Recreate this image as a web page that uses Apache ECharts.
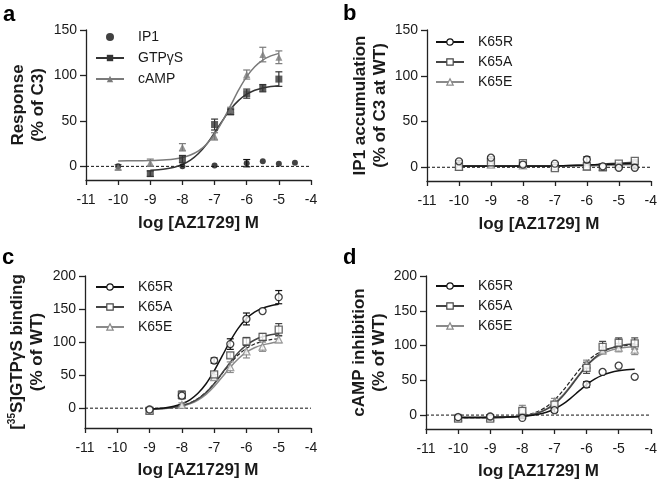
<!DOCTYPE html>
<html><head><meta charset="utf-8">
<script src="https://cdn.jsdelivr.net/npm/echarts@6/dist/echarts.min.js"></script>
<style>html,body{margin:0;padding:0;background:#fff}#c{width:660px;height:481px}</style>
</head><body><div id="c"></div>
<script>
// ---------- DATA ----------
const xTicks = [-11,-10,-9,-8,-7,-6,-5,-4];
const yTicksAB = [0,50,100,150];
const yTicksCD = [0,50,100,150,200];

// Panel a
const a_IP1_x = [-10,-8,-7,-6,-5.5,-5,-4.5];
const a_IP1_y = [0,0,1,3.5,5.5,3,4];
const a_IP1_e = [0,0,0,4,0,0,0];
const a_GTP_x = [-9,-8,-7,-6.5,-6,-5.5,-5];
const a_GTP_y = [-8,8,46,60,80,86,96];
const a_GTP_e = [3,4,6,3,5,4,8];
const a_cAMP_x = [-10,-9,-8,-7,-6.5,-6,-5.5,-5];
const a_cAMP_y = [-1,4,21,33,62,101,123,120];
const a_cAMP_e = [3,4,4,4,3,5,8,7];
const a_GTP_curveX = [-9,-8.75,-8.5,-8.25,-8,-7.75,-7.5,-7.25,-7,-6.75,-6.5,-6.25,-6,-5.75,-5.5,-5.25,-5];
const a_GTP_curveY = [-4.3,-3.7,-2.7,-0.9,2.0,6.8,14.1,24.3,37.1,50.6,63.0,72.6,79.4,83.7,86.3,87.9,88.8];
const a_cAMP_curveX = [-10,-9.5,-9,-8.75,-8.5,-8.25,-8,-7.75,-7.5,-7.25,-7,-6.75,-6.5,-6.25,-6,-5.75,-5.5,-5.25,-5];
const a_cAMP_curveY = [6.0,6.1,6.4,6.7,7.2,8.1,9.7,12.5,17.1,24.4,35.3,49.9,67.0,84.1,98.7,109.6,116.9,121.5,124.3];

// Panel b
const b_x = [-10,-9,-8,-7,-6,-5.5,-5,-4.5];
const b_R_y = [6.5,10.5,3,4,8.5,1,-0.5,-0.5];
const b_R_e = [1,1,0,1,3,0,0,1];
const b_A_y = [0.5,5.5,4.5,-1,1,0,4,7];
const b_A_e = [0,1,1,1,0,0,1,1];
const b_E_y = [1,3,2,1,0.5,0.5,2,5];
const b_E_e = [0,0,0,0,0,0,0,0];
const b_curveX = [-10,-9,-8,-7,-6,-5.5,-5,-4.5];
const b_R_curveY = [1.5,1.5,1.5,1.5,2.5,3,3.5,4];
const b_A_curveY = [1,1,1,1.5,2.5,3.5,4.5,5.5];
const b_E_curveY = [1,1,1,1,1.5,2,2.5,3];

// Panel c
const c_x = [-9,-8,-7,-6.5,-6,-5.5,-5];
const c_R_y = [-2,19,72,97,135,147,168];
const c_R_e = [1,4,4,8,9,0,10];
const c_A_y = [-4,20,51,80,101,108,119];
const c_A_e = [1,6,4,4,6,5,9];
const c_E_y = [-3,5,47,62,86,93,104];
const c_E_e = [1,3,4,8,10,7,5];
const c_curveX = [-9,-8.75,-8.5,-8.25,-8,-7.75,-7.5,-7.25,-7,-6.75,-6.5,-6.25,-6,-5.75,-5.5,-5.25,-5];
const c_R_curveY = [-1.1,-0.4,0.8,3.0,6.6,12.7,22.5,36.9,56.3,79.0,101.7,121.1,135.5,145.3,151.4,155.0,157.2];
const c_A_curveY = [-1.4,-1.0,-0.2,1.2,3.6,7.6,14.0,23.7,37.0,53.2,69.7,84.3,95.5,103.2,108.0,111.0,112.7];
const c_E_curveY = [-1.5,-1.1,-0.4,0.9,3.0,6.6,12.2,20.8,32.7,47.1,61.8,74.7,84.7,91.5,95.8,98.4,100.0];
const c_D_curveY = [-1.4,-0.9,-0.1,1.3,3.8,7.9,14.5,24.2,37.2,52.5,67.8,80.8,90.5,97.1,101.2,103.7,105.1];

// Panel d
const d_x = [-10,-9,-8,-7,-6,-5.5,-5,-4.5];
const d_R_y = [-3,-2,-4,7,44,62,71,55];
const d_R_e = [1,1,1,3,4,0,0,0];
const d_A_y = [-5,-5,6,15,68,98,104,103];
const d_A_e = [4,3,4,4,8,8,7,8];
const d_E_y = [-3,-3,8,19,73,93,97,94];
const d_E_e = [4,3,6,5,6,5,6,7];
const d_curveX = [-10,-9.5,-9,-8.5,-8,-7.75,-7.5,-7.25,-7,-6.75,-6.5,-6.25,-6,-5.75,-5.5,-5.25,-5,-4.75,-4.5];
const d_R_curveY = [-3,-3,-2.9,-2.6,-1.6,-0.6,1.2,4.1,8.7,15.3,24.1,34.0,43.7,51.6,57.4,61.3,63.7,65.1,65.9];
const d_A_curveY = [-4,-3.9,-3.8,-3.2,-1.6,0.1,3.2,8.1,15.7,26.8,40.8,56.2,70.6,82.3,90.6,96.1,99.4,101.4,102.5];
const d_E_curveY = [-4,-4,-3.7,-3.2,-1.45,0.45,3.65,8.9,16.9,28.1,42,56.9,70.4,81,88.4,93.1,96,97.7,98.7];
const d_D_curveY = [-4,-4,-3.7,-2.95,-0.75,1.6,5.6,12,21.5,34.2,49,63.9,76.5,86,92.4,96.4,98.8,100.1,101];

// ---------- CHART ----------
const FONT = "'Liberation Sans', Arial, sans-serif";
const TXT = '#1a1a1a';
const C_R = '#111111', C_A = '#454545', C_E = '#8a8a8a';
const zip = (xs, ys) => xs.map((x, i) => [x, ys[i]]);

const grids = [
  {left:86, top:30, width:225, height:150},
  {left:427, top:30, width:226, height:151},
  {left:85, top:276, width:226, height:152},
  {left:426, top:276, width:226, height:153}
];
const yMins = [-15,-15,-30,-20];
const yMaxs = [150,150,200,200];
const yTickSets = [yTicksAB, yTicksAB, yTicksCD, yTicksCD];
const yNames = [
  'Response\n(% of C3)',
  'IP1 accumulation\n(% of C3 at WT)',
  '[{sup|35}S]GTPγS binding\n(% of WT)',
  'cAMP inhibition\n(% of WT)'
];
const yNameGaps = [38, 37, 38, 35];
const xNameGaps = [35, 35, 34, 34];

const axisLineStyle = {color:'#222', width:1.3};
const xAxes = grids.map((g, i) => ({
  type:'value', gridIndex:i, min:xTicks[0], max:xTicks[xTicks.length-1], interval:1,
  axisLine:{show:true, onZero:false, lineStyle:axisLineStyle},
  axisTick:{show:true, length:5, lineStyle:axisLineStyle},
  axisLabel:{fontSize:14, color:TXT, margin:13, fontFamily:FONT, showMinLabel:true, showMaxLabel:true},
  splitLine:{show:false},
  name:'log [AZ1729] M', nameLocation:'middle', nameGap:xNameGaps[i],
  nameTextStyle:{fontWeight:'bold', fontSize:17, color:TXT, fontFamily:FONT}
}));
const yAxes = grids.map((g, i) => ({
  type:'value', gridIndex:i, min:yMins[i], max:yMaxs[i],
  axisLine:{show:true, onZero:false, lineStyle:axisLineStyle},
  axisTick:{show:true, length:6, lineStyle:axisLineStyle, customValues:yTickSets[i]},
  axisLabel:{fontSize:14, color:TXT, margin:9, fontFamily:FONT, customValues:yTickSets[i]},
  splitLine:{show:false},
  name:yNames[i], nameLocation:'middle', nameRotate:90, nameGap:yNameGaps[i],
  nameTextStyle:{fontWeight:'bold', fontSize:17, color:TXT, fontFamily:FONT, lineHeight:20, align:'center',
    rich:{sup:{fontSize:10, fontWeight:'bold', verticalAlign:'top', color:TXT, fontFamily:FONT, lineHeight:20}}}
}));

const series = [];
function zeroLine(i){
  series.push({type:'line', xAxisIndex:i, yAxisIndex:i, name:'zero'+i, silent:true, symbol:'none',
    data:[[xTicks[0],0],[xTicks[xTicks.length-1],0]], z:1,
    lineStyle:{color:'#111', width:1, type:[3,2]}});
}
function curve(i, name, xs, ys, color, symbol, filled, dashed){
  series.push({type:'line', xAxisIndex:i, yAxisIndex:i, name:name, data:zip(xs, ys),
    smooth:0.3, showSymbol:false, symbol:symbol, symbolSize:7, z:3, silent:true,
    lineStyle:{color:color, width:dashed ? 1.2 : 1.5, type: dashed ? [4,2] : 'solid'},
    itemStyle: filled ? {color:color} : {color:'#fff', borderColor:color, borderWidth:1.3}});
}
function points(i, name, xs, ys, color, symbol, size, filled){
  series.push({type:'scatter', xAxisIndex:i, yAxisIndex:i, name:name, data:zip(xs, ys),
    symbol:symbol, symbolSize:size, z:5, silent:true,
    itemStyle: filled ? {color:color} : {color:'#fff', borderColor:color, borderWidth:1.3}});
}
function errBars(i, xs, ys, es, color){
  const data = [];
  xs.forEach((x, k) => { if (es[k] > 0) data.push([x, ys[k]-es[k], ys[k]+es[k]]); });
  series.push({type:'custom', xAxisIndex:i, yAxisIndex:i, silent:true, z:4, data:data,
    encode:{x:0, y:[1,2]},
    renderItem:function(params, api){
      const lo = api.coord([api.value(0), api.value(1)]);
      const hi = api.coord([api.value(0), api.value(2)]);
      const w = 3.5, st = {stroke:color, lineWidth:1.2};
      return {type:'group', children:[
        {type:'line', shape:{x1:lo[0], y1:lo[1], x2:hi[0], y2:hi[1]}, style:st},
        {type:'line', shape:{x1:hi[0]-w, y1:hi[1], x2:hi[0]+w, y2:hi[1]}, style:st},
        {type:'line', shape:{x1:lo[0]-w, y1:lo[1], x2:lo[0]+w, y2:lo[1]}, style:st}
      ]};
    }});
}

// a
zeroLine(0);
curve(0, 'GTPγS', a_GTP_curveX, a_GTP_curveY, '#333', 'rect', true);
curve(0, 'cAMP', a_cAMP_curveX, a_cAMP_curveY, '#7a7a7a', 'triangle', true);
errBars(0, a_IP1_x, a_IP1_y, a_IP1_e, '#111');
errBars(0, a_GTP_x, a_GTP_y, a_GTP_e, '#333');
errBars(0, a_cAMP_x, a_cAMP_y, a_cAMP_e, '#7a7a7a');
points(0, 'IP1', a_IP1_x, a_IP1_y, '#111', 'circle', 6, true);
points(0, 'GTPγS pts', a_GTP_x, a_GTP_y, '#333', 'rect', 7, true);
points(0, 'cAMP pts', a_cAMP_x, a_cAMP_y, '#7a7a7a', 'triangle', 7, true);

// b, c, d
const panels = [
  {i:1, x:b_x, cx:b_curveX, R:[b_R_y,b_R_e,b_R_curveY], A:[b_A_y,b_A_e,b_A_curveY], E:[b_E_y,b_E_e,b_E_curveY], D:null},
  {i:2, x:c_x, cx:c_curveX, R:[c_R_y,c_R_e,c_R_curveY], A:[c_A_y,c_A_e,c_A_curveY], E:[c_E_y,c_E_e,c_E_curveY], D:c_D_curveY},
  {i:3, x:d_x, cx:d_curveX, R:[d_R_y,d_R_e,d_R_curveY], A:[d_A_y,d_A_e,d_A_curveY], E:[d_E_y,d_E_e,d_E_curveY], D:d_D_curveY}
];
panels.forEach(p => {
  zeroLine(p.i);
  if (p.D) curve(p.i, 'dash'+p.i, p.cx, p.D, '#222', 'none', true, true);
  curve(p.i, 'K65E', p.cx, p.E[2], C_E, 'triangle', false);
  curve(p.i, 'K65A', p.cx, p.A[2], C_A, 'rect', false);
  curve(p.i, 'K65R', p.cx, p.R[2], C_R, 'circle', false);
  errBars(p.i, p.x, p.E[0], p.E[1], C_E);
  errBars(p.i, p.x, p.A[0], p.A[1], C_A);
  errBars(p.i, p.x, p.R[0], p.R[1], C_R);
  points(p.i, 'K65E pts'+p.i, p.x, p.E[0], C_E, 'triangle', 7, false);
  points(p.i, 'K65A pts'+p.i, p.x, p.A[0], C_A, 'rect', 7, false);
  points(p.i, 'K65R pts'+p.i, p.x, p.R[0], C_R, 'circle', 7, false);
});

function legend(left, top, names, gap){
  return {orient:'vertical', left:left, top:top, padding:0, itemWidth:28, itemHeight:8, itemGap:gap,
    selectedMode:false, data:names,
    itemStyle:{borderWidth:1.2},
    textStyle:{fontSize:14, color:TXT, fontFamily:FONT, lineHeight:16, padding:[0,0,0,9]}};
}

const option = {
  animation:false,
  backgroundColor:'#fff',
  grid:grids,
  xAxis:xAxes,
  yAxis:yAxes,
  legend:[
    legend(95, 29, ['IP1','GTPγS','cAMP'], 5),
    legend(435, 34, ['K65R','K65A','K65E'], 4),
    legend(95, 279, ['K65R','K65A','K65E'], 4),
    legend(435, 278, ['K65R','K65A','K65E'], 4)
  ],
  graphic:[
    {type:'text', left:3, top:4, style:{text:'a', font:"bold 22px 'Liberation Sans', Arial", fill:'#000'}},
    {type:'text', left:343, top:3, style:{text:'b', font:"bold 22px 'Liberation Sans', Arial", fill:'#000'}},
    {type:'text', left:2, top:247, style:{text:'c', font:"bold 22px 'Liberation Sans', Arial", fill:'#000'}},
    {type:'text', left:343, top:247, style:{text:'d', font:"bold 22px 'Liberation Sans', Arial", fill:'#000'}}
  ],
  series:series
};
const chart = echarts.init(document.getElementById('c'), null, {renderer:'canvas'});
chart.setOption(option);
</script></body></html>
